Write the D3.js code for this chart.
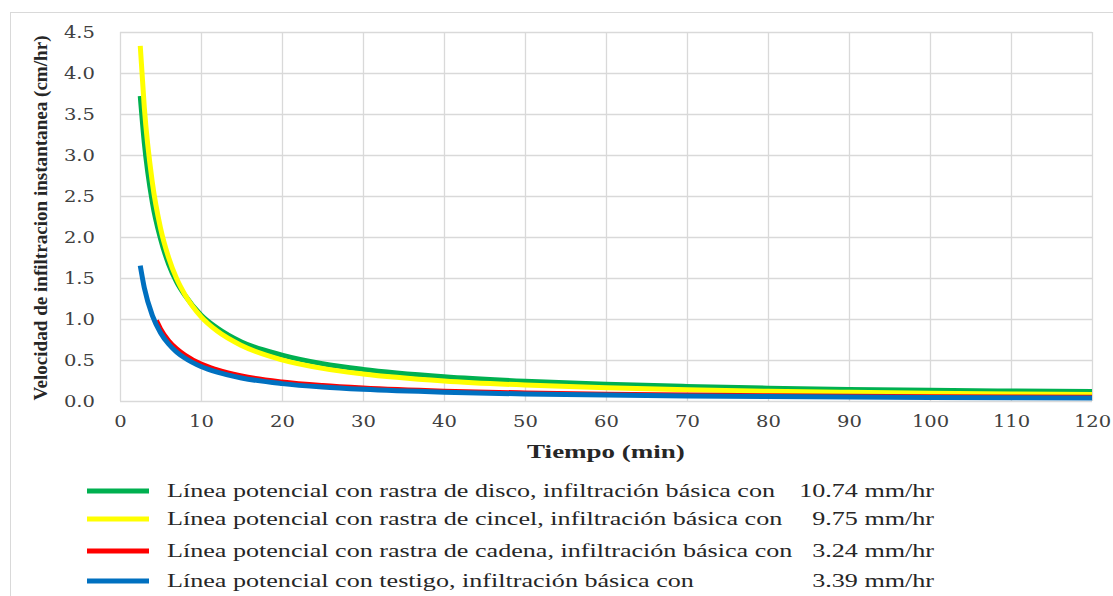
<!DOCTYPE html>
<html>
<head>
<meta charset="utf-8">
<script src="https://cdn.jsdelivr.net/npm/d3@7"></script>
<style>
  body { margin: 0; background: #fff; }
  svg { display: block; }
  .serif { font-family: "Liberation Serif", "Times New Roman", Times, serif; }
  .tick text { font-family: "DejaVu Serif", "Liberation Serif", serif; }
</style>
</head>
<body>
<svg id="chart" width="1113" height="596"></svg>
<script>
// tiempo (min)
const tiempo = [2.5, 3, 4, 5, 6, 7, 8, 10, 12, 15, 20, 25, 30, 40, 50, 60, 70, 80, 90, 100, 110, 120];
const tiempoCadena = [4.5, 5, 6, 7, 8, 10, 12, 15, 20, 25, 30, 40, 50, 60, 70, 80, 90, 100, 110, 120];

const disco   = [3.72, 3.15, 2.42, 1.98, 1.67, 1.45, 1.29, 1.05, 0.89, 0.72, 0.56, 0.455, 0.385, 0.296, 0.241, 0.204, 0.178, 0.157, 0.141, 0.130, 0.122, 0.115];
const cincel  = [4.33, 3.58, 2.66, 2.11, 1.75, 1.49, 1.30, 1.03, 0.853, 0.677, 0.502, 0.398, 0.330, 0.245, 0.194, 0.161, 0.137, 0.119, 0.106, 0.095, 0.086, 0.080];
const cadena  = [0.98, 0.88, 0.735, 0.635, 0.56, 0.45, 0.38, 0.305, 0.232, 0.188, 0.158, 0.12, 0.098, 0.083, 0.072, 0.064, 0.058, 0.053, 0.049, 0.046];
const testigo = [1.65, 1.38, 1.04, 0.833, 0.695, 0.597, 0.524, 0.420, 0.351, 0.281, 0.212, 0.170, 0.142, 0.107, 0.086, 0.072, 0.062, 0.054, 0.048, 0.043, 0.039, 0.036];

const xTicks = [0, 10, 20, 30, 40, 50, 60, 70, 80, 90, 100, 110, 120];
const yTicks = [0, 0.5, 1, 1.5, 2, 2.5, 3, 3.5, 4, 4.5];

const series = [
  { x: tiempo, y: disco, color: "#00b050", label: "Línea potencial con rastra de disco, infiltración básica con", valor: "10.74 mm/hr" },
  { x: tiempo, y: cincel, color: "#ffff00", label: "Línea potencial con rastra de cincel, infiltración básica con", valor: "9.75 mm/hr" },
  { x: tiempoCadena, y: cadena, color: "#ff0000", label: "Línea potencial con rastra de cadena, infiltración básica con", valor: "3.24 mm/hr" },
  { x: tiempo, y: testigo, color: "#0070c0", label: "Línea potencial con testigo, infiltración básica con", valor: "3.39 mm/hr" }
];

const svg = d3.select("#chart");
const margin = { top: 32, right: 21, bottom: 195, left: 120 };
const width = 1113 - margin.left - margin.right;
const height = 596 - margin.top - margin.bottom;

// el original esta estirado a lo ancho
function estirar(sel, k) {
  sel.each(function() {
    const len = this.getComputedTextLength();
    d3.select(this).attr("textLength", len * k).attr("lengthAdjust", "spacingAndGlyphs");
  });
}

// marco del grafico
svg.append("rect")
  .attr("x", 10.5).attr("y", 12.5)
  .attr("width", 1120).attr("height", 600)
  .attr("fill", "none").attr("stroke", "#d9d9d9");

const g = svg.append("g").attr("transform", `translate(${margin.left},${margin.top})`);

const x = d3.scaleLinear().domain([0, 120]).range([0, width]);
const y = d3.scaleLinear().domain([0, 4.5]).range([height, 0]);

// rejilla
g.append("g").selectAll("line").data(yTicks).enter().append("line")
  .attr("x1", 0).attr("x2", width)
  .attr("y1", d => Math.round(y(d)) + 0.5).attr("y2", d => Math.round(y(d)) + 0.5)
  .attr("stroke", "#d9d9d9").attr("stroke-width", 1.3);
g.append("g").selectAll("line").data(xTicks).enter().append("line")
  .attr("y1", 0).attr("y2", height)
  .attr("x1", d => Math.round(x(d)) + 0.5).attr("x2", d => Math.round(x(d)) + 0.5)
  .attr("stroke", "#d9d9d9").attr("stroke-width", 1.3);

// ejes
const xAxis = g.append("g").attr("transform", `translate(0,${height})`)
  .call(d3.axisBottom(x).tickValues(xTicks).tickSize(0).tickPadding(15).tickFormat(d3.format("d")));
const yAxis = g.append("g")
  .call(d3.axisLeft(y).tickValues(yTicks).tickSize(0).tickPadding(25).tickFormat(d3.format(".1f")));
[xAxis, yAxis].forEach(a => {
  a.select(".domain").remove();
  a.attr("font-family", null).attr("font-size", null);
  a.selectAll("text")
    .style("font-size", "16px")
    .attr("fill", "#404040");
});
estirar(xAxis.selectAll("text"), 1.22);
estirar(yAxis.selectAll("text"), 1.22);

// lineas
const line = d3.line().curve(d3.curveMonotoneX);
series.forEach(s => {
  g.append("path")
    .datum(s.x.map((t, i) => [x(t), y(s.y[i])]))
    .attr("d", line)
    .attr("fill", "none")
    .attr("stroke", s.color)
    .attr("stroke-width", 5);
});

// titulos de ejes
svg.append("text")
  .attr("class", "serif")
  .attr("x", 606).attr("y", 458)
  .attr("text-anchor", "middle")
  .attr("font-weight", "bold").style("font-size", "18px")
  .attr("fill", "#262626")
  .text("Tiempo (min)")
  .call(estirar, 1.5);

svg.append("text")
  .attr("class", "serif")
  .attr("transform", `translate(47,218) rotate(-90)`)
  .attr("text-anchor", "middle")
  .attr("font-weight", "bold").style("font-size", "19px")
  .attr("textLength", 365).attr("lengthAdjust", "spacingAndGlyphs")
  .attr("fill", "#262626")
  .text("Velocidad de infiltracion instantanea (cm/hr)");

// leyenda
const legendY = [491, 519, 551, 581];
const leg = svg.append("g");
series.forEach((s, i) => {
  leg.append("line")
    .attr("x1", 87).attr("x2", 149)
    .attr("y1", legendY[i]).attr("y2", legendY[i])
    .attr("stroke", s.color).attr("stroke-width", 5);
  leg.append("text")
    .attr("class", "serif")
    .attr("x", 167).attr("y", legendY[i] + 6)
    .style("font-size", "18px")
    .attr("fill", "#262626")
    .text(s.label)
    .call(estirar, 1.45);
  leg.append("text")
    .attr("class", "serif")
    .attr("x", 934).attr("y", legendY[i] + 6)
    .attr("text-anchor", "end")
    .style("font-size", "18px")
    .attr("fill", "#262626")
    .text(s.valor)
    .call(estirar, 1.45);
});
</script>
</body>
</html>
